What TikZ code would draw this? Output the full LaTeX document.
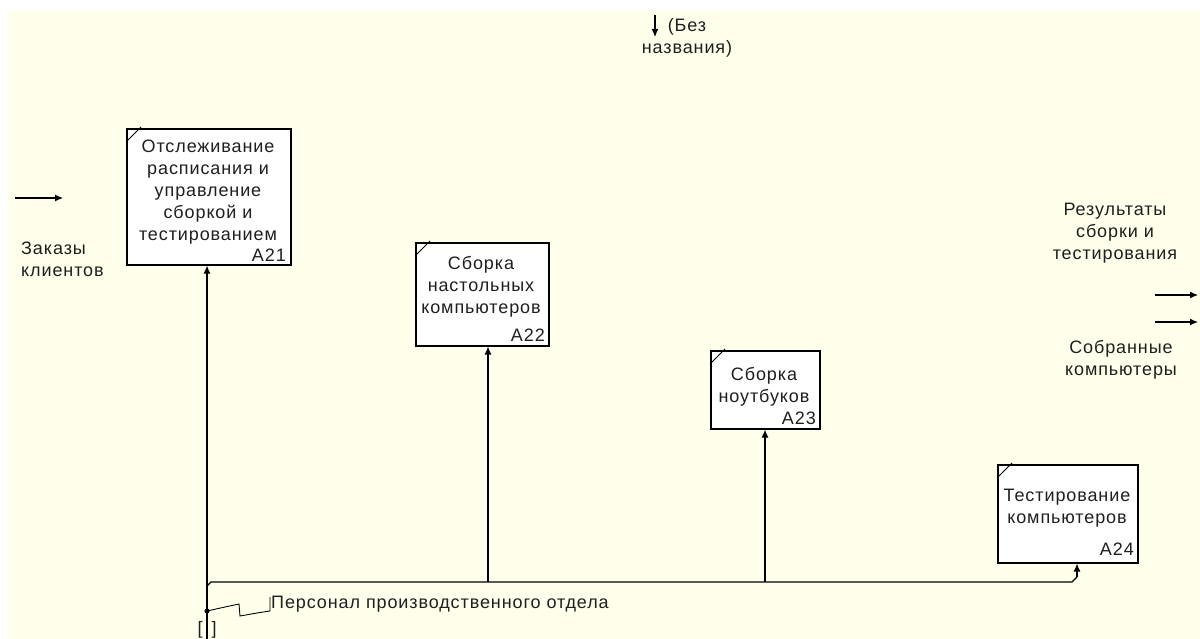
\documentclass[tikz,border=0pt]{standalone}
\usepackage{fontspec}
\setmainfont{Liberation Sans}[LetterSpace=5]
\usetikzlibrary{arrows.meta}
\definecolor{bgyellow}{RGB}{255,255,236}
\tikzset{
  fnt/.style={font=\fontsize{18}{22}\selectfont, inner sep=0pt, text=black!88},
  funcbox/.style={draw=black, line width=1.6pt, fill=white, rectangle, inner sep=0pt, anchor=north west},
  arr/.style={line width=1.1pt, -{Latex[length=8pt,width=7pt]}},
  ln/.style={line width=1.1pt},
}
\newcommand{\boxmark}[1]{\draw[line width=0.9pt] ([yshift=-14pt]#1.north west) -- ([xshift=15pt,yshift=1pt]#1.north west);}
\begin{document}
\begin{tikzpicture}[x=1pt,y=-1pt]
\useasboundingbox (0,0) rectangle (1200,639);
\fill[white] (0,0) rectangle (1200,639);
\fill[bgyellow] (8,10) rectangle (1200,639);

% boxes
\node[funcbox, minimum width=164pt, minimum height=136pt] (a21) at (126,128) {};
\node[funcbox, minimum width=133pt, minimum height=103pt] (a22) at (415,242) {};
\node[funcbox, minimum width=109pt, minimum height=78pt] (a23) at (710,350) {};
\node[funcbox, minimum width=140pt, minimum height=98pt] (a24) at (997,464) {};
\boxmark{a21}\boxmark{a22}\boxmark{a23}\boxmark{a24}

% box texts
\node[fnt, align=center] (t21) at (208,192) {Отслеживание\\расписания и\\управление\\сборкой и\\тестированием};
\node[fnt, anchor=east] (n21) at (286,255) {A21};
\node[fnt, align=center] (t22) at (481,287) {Сборка\\настольных\\компьютеров};
\node[fnt, anchor=east] (n22) at (545,335) {A22};
\node[fnt, align=center] (t23) at (764,387) {Сборка\\ноутбуков};
\node[fnt, anchor=east] (n23) at (816,418) {A23};
\node[fnt, align=center] (t24) at (1067,508) {Тестирование\\компьютеров};
\node[fnt, anchor=east] (n24) at (1134,549) {A24};

% control arrow on top
\coordinate (ctop) at (655,15);
\coordinate (cend) at (655,37);
\draw[arr] (ctop) -- (cend);
\node[fnt, align=center] (clab) at (687,38) {(Без\\названия)};

% input arrow
\coordinate (inS) at (15,198);
\coordinate (inE) at (63,198);
\draw[arr] (inS) -- (inE);
\node[fnt, align=left, anchor=west] (inlab) at (21,259) {Заказы\\клиентов};

% output arrows
\coordinate (o1S) at (1155,295);
\coordinate (o1E) at (1198,295);
\coordinate (o2S) at (1155,322);
\coordinate (o2E) at (1198,322);
\draw[arr] (o1S) -- (o1E);
\draw[arr] (o2S) -- (o2E);
\node[fnt, align=center] (o1lab) at (1115,233) {Результаты\\сборки и\\тестирования};
\node[fnt, align=center] (o2lab) at (1121,360) {Собранные\\компьютеры};

% mechanism
\coordinate (mb) at (207,639);
\coordinate (mj) at (207,611);
\draw[arr] (mb) -- (207,0 |- a21.south);
\draw[ln] (207,586) -- (211,582) -- (1072,582) -- (1077,577);
\draw[arr] (1077,577) -- (1077,0 |- a24.south);
\draw[arr] (488,582) -- (488,0 |- a22.south);
\draw[arr] (765,582) -- (765,0 |- a23.south);
\fill (mj) circle (2.6pt);
\node[fnt, anchor=west] (mlab) at (271,604) {Персонал производственного отдела};
\draw[line width=0.9pt] (mj) -- (225,607) -- (239,604) -- (240,616) -- (257,613) -- (270,611) -- (270,597);
\node[fnt] (br1) at (200,630) {[};
\node[fnt] (br2) at (214,630) {]};
\end{tikzpicture}
\end{document}
